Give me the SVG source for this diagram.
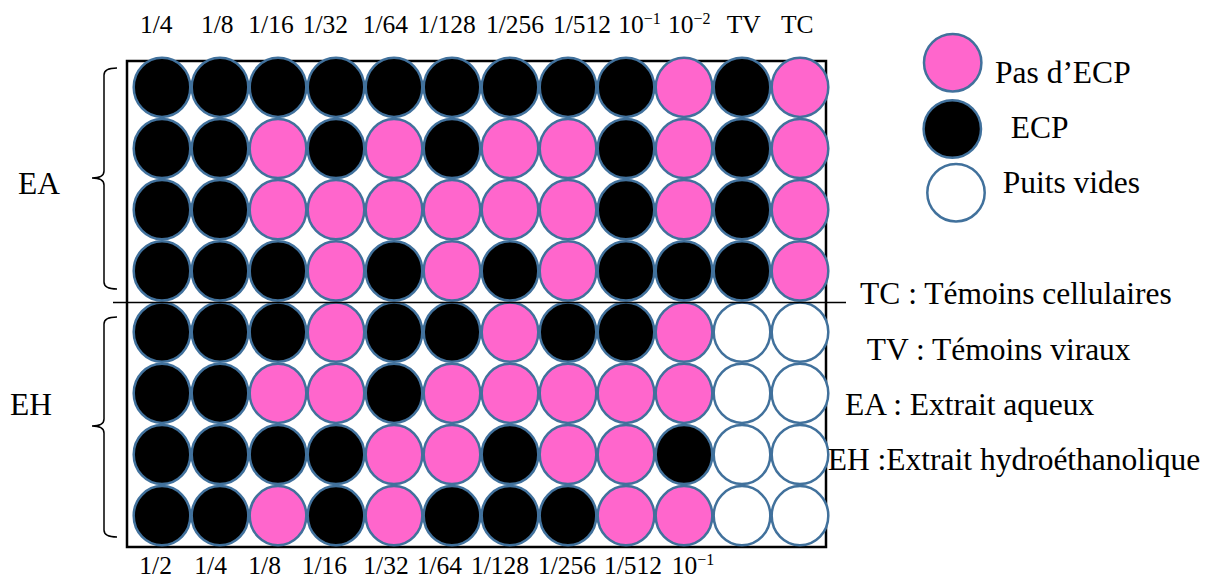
<svg xmlns="http://www.w3.org/2000/svg" width="1205" height="578" viewBox="0 0 1205 578" font-family="'Liberation Serif','Times New Roman',serif">
<style>
text{font-family:"Liberation Serif","Times New Roman",serif;fill:#000}
.col{font-size:25.5px}
.lbl{font-size:31.5px}
.w{stroke:#41719C;stroke-width:2.5}
.b{fill:#000}
.p{fill:#FF66CC}
.e{fill:#fff}
.brace{fill:none;stroke:#000;stroke-width:1.5}
</style>
<rect width="1205" height="578" fill="#fff"/>
<g id="plate">
<rect x="127" y="61" width="699" height="486" fill="#fff" stroke="#000" stroke-width="2.5"/>
</g>
<g id="wells">
<g id="row1">
<ellipse class="w b" cx="162" cy="87.3" rx="28.3" ry="29.6"/><ellipse class="w b" cx="220" cy="87.3" rx="28.3" ry="29.6"/><ellipse class="w b" cx="278" cy="87.3" rx="28.3" ry="29.6"/><ellipse class="w b" cx="336" cy="87.3" rx="28.3" ry="29.6"/><ellipse class="w b" cx="394" cy="87.3" rx="28.3" ry="29.6"/><ellipse class="w b" cx="452" cy="87.3" rx="28.3" ry="29.6"/><ellipse class="w b" cx="510" cy="87.3" rx="28.3" ry="29.6"/><ellipse class="w b" cx="568" cy="87.3" rx="28.3" ry="29.6"/><ellipse class="w b" cx="626" cy="87.3" rx="28.3" ry="29.6"/><ellipse class="w p" cx="684" cy="87.3" rx="28.3" ry="29.6"/><ellipse class="w b" cx="742" cy="87.3" rx="28.3" ry="29.6"/><ellipse class="w p" cx="800" cy="87.3" rx="28.3" ry="29.6"/>
</g>
<g id="row2">
<ellipse class="w b" cx="162" cy="148.5" rx="28.3" ry="29.6"/><ellipse class="w b" cx="220" cy="148.5" rx="28.3" ry="29.6"/><ellipse class="w p" cx="278" cy="148.5" rx="28.3" ry="29.6"/><ellipse class="w b" cx="336" cy="148.5" rx="28.3" ry="29.6"/><ellipse class="w p" cx="394" cy="148.5" rx="28.3" ry="29.6"/><ellipse class="w b" cx="452" cy="148.5" rx="28.3" ry="29.6"/><ellipse class="w p" cx="510" cy="148.5" rx="28.3" ry="29.6"/><ellipse class="w p" cx="568" cy="148.5" rx="28.3" ry="29.6"/><ellipse class="w b" cx="626" cy="148.5" rx="28.3" ry="29.6"/><ellipse class="w p" cx="684" cy="148.5" rx="28.3" ry="29.6"/><ellipse class="w b" cx="742" cy="148.5" rx="28.3" ry="29.6"/><ellipse class="w p" cx="800" cy="148.5" rx="28.3" ry="29.6"/>
</g>
<g id="row3">
<ellipse class="w b" cx="162" cy="209.7" rx="28.3" ry="29.6"/><ellipse class="w b" cx="220" cy="209.7" rx="28.3" ry="29.6"/><ellipse class="w p" cx="278" cy="209.7" rx="28.3" ry="29.6"/><ellipse class="w p" cx="336" cy="209.7" rx="28.3" ry="29.6"/><ellipse class="w p" cx="394" cy="209.7" rx="28.3" ry="29.6"/><ellipse class="w p" cx="452" cy="209.7" rx="28.3" ry="29.6"/><ellipse class="w p" cx="510" cy="209.7" rx="28.3" ry="29.6"/><ellipse class="w p" cx="568" cy="209.7" rx="28.3" ry="29.6"/><ellipse class="w b" cx="626" cy="209.7" rx="28.3" ry="29.6"/><ellipse class="w p" cx="684" cy="209.7" rx="28.3" ry="29.6"/><ellipse class="w b" cx="742" cy="209.7" rx="28.3" ry="29.6"/><ellipse class="w p" cx="800" cy="209.7" rx="28.3" ry="29.6"/>
</g>
<g id="row4">
<ellipse class="w b" cx="162" cy="270.9" rx="28.3" ry="29.6"/><ellipse class="w b" cx="220" cy="270.9" rx="28.3" ry="29.6"/><ellipse class="w b" cx="278" cy="270.9" rx="28.3" ry="29.6"/><ellipse class="w p" cx="336" cy="270.9" rx="28.3" ry="29.6"/><ellipse class="w b" cx="394" cy="270.9" rx="28.3" ry="29.6"/><ellipse class="w p" cx="452" cy="270.9" rx="28.3" ry="29.6"/><ellipse class="w b" cx="510" cy="270.9" rx="28.3" ry="29.6"/><ellipse class="w p" cx="568" cy="270.9" rx="28.3" ry="29.6"/><ellipse class="w b" cx="626" cy="270.9" rx="28.3" ry="29.6"/><ellipse class="w b" cx="684" cy="270.9" rx="28.3" ry="29.6"/><ellipse class="w b" cx="742" cy="270.9" rx="28.3" ry="29.6"/><ellipse class="w p" cx="800" cy="270.9" rx="28.3" ry="29.6"/>
</g>
<g id="row5">
<ellipse class="w b" cx="162" cy="332.1" rx="28.3" ry="29.6"/><ellipse class="w b" cx="220" cy="332.1" rx="28.3" ry="29.6"/><ellipse class="w b" cx="278" cy="332.1" rx="28.3" ry="29.6"/><ellipse class="w p" cx="336" cy="332.1" rx="28.3" ry="29.6"/><ellipse class="w b" cx="394" cy="332.1" rx="28.3" ry="29.6"/><ellipse class="w b" cx="452" cy="332.1" rx="28.3" ry="29.6"/><ellipse class="w p" cx="510" cy="332.1" rx="28.3" ry="29.6"/><ellipse class="w b" cx="568" cy="332.1" rx="28.3" ry="29.6"/><ellipse class="w b" cx="626" cy="332.1" rx="28.3" ry="29.6"/><ellipse class="w p" cx="684" cy="332.1" rx="28.3" ry="29.6"/><ellipse class="w e" cx="742" cy="332.1" rx="28.3" ry="29.6"/><ellipse class="w e" cx="800" cy="332.1" rx="28.3" ry="29.6"/>
</g>
<g id="row6">
<ellipse class="w b" cx="162" cy="393.3" rx="28.3" ry="29.6"/><ellipse class="w b" cx="220" cy="393.3" rx="28.3" ry="29.6"/><ellipse class="w p" cx="278" cy="393.3" rx="28.3" ry="29.6"/><ellipse class="w p" cx="336" cy="393.3" rx="28.3" ry="29.6"/><ellipse class="w b" cx="394" cy="393.3" rx="28.3" ry="29.6"/><ellipse class="w p" cx="452" cy="393.3" rx="28.3" ry="29.6"/><ellipse class="w p" cx="510" cy="393.3" rx="28.3" ry="29.6"/><ellipse class="w p" cx="568" cy="393.3" rx="28.3" ry="29.6"/><ellipse class="w p" cx="626" cy="393.3" rx="28.3" ry="29.6"/><ellipse class="w p" cx="684" cy="393.3" rx="28.3" ry="29.6"/><ellipse class="w e" cx="742" cy="393.3" rx="28.3" ry="29.6"/><ellipse class="w e" cx="800" cy="393.3" rx="28.3" ry="29.6"/>
</g>
<g id="row7">
<ellipse class="w b" cx="162" cy="454.5" rx="28.3" ry="29.6"/><ellipse class="w b" cx="220" cy="454.5" rx="28.3" ry="29.6"/><ellipse class="w b" cx="278" cy="454.5" rx="28.3" ry="29.6"/><ellipse class="w b" cx="336" cy="454.5" rx="28.3" ry="29.6"/><ellipse class="w p" cx="394" cy="454.5" rx="28.3" ry="29.6"/><ellipse class="w p" cx="452" cy="454.5" rx="28.3" ry="29.6"/><ellipse class="w b" cx="510" cy="454.5" rx="28.3" ry="29.6"/><ellipse class="w p" cx="568" cy="454.5" rx="28.3" ry="29.6"/><ellipse class="w p" cx="626" cy="454.5" rx="28.3" ry="29.6"/><ellipse class="w b" cx="684" cy="454.5" rx="28.3" ry="29.6"/><ellipse class="w e" cx="742" cy="454.5" rx="28.3" ry="29.6"/><ellipse class="w e" cx="800" cy="454.5" rx="28.3" ry="29.6"/>
</g>
<g id="row8">
<ellipse class="w b" cx="162" cy="515.7" rx="28.3" ry="29.6"/><ellipse class="w b" cx="220" cy="515.7" rx="28.3" ry="29.6"/><ellipse class="w p" cx="278" cy="515.7" rx="28.3" ry="29.6"/><ellipse class="w b" cx="336" cy="515.7" rx="28.3" ry="29.6"/><ellipse class="w p" cx="394" cy="515.7" rx="28.3" ry="29.6"/><ellipse class="w b" cx="452" cy="515.7" rx="28.3" ry="29.6"/><ellipse class="w b" cx="510" cy="515.7" rx="28.3" ry="29.6"/><ellipse class="w b" cx="568" cy="515.7" rx="28.3" ry="29.6"/><ellipse class="w p" cx="626" cy="515.7" rx="28.3" ry="29.6"/><ellipse class="w p" cx="684" cy="515.7" rx="28.3" ry="29.6"/><ellipse class="w e" cx="742" cy="515.7" rx="28.3" ry="29.6"/><ellipse class="w e" cx="800" cy="515.7" rx="28.3" ry="29.6"/>
</g>
</g>
<g id="connectors">
<line x1="113" y1="302.5" x2="846" y2="302.5" stroke="#000" stroke-width="1.5"/>
<path class="brace" d="M117,68 Q104,68 104,75 L104,171 Q104,178 92,178 Q104,178 104,185 L104,282 Q104,289 117,289"/>
<path class="brace" d="M117,317 Q104,317 104,324 L104,419 Q104,426 92,426 Q104,426 104,433 L104,530 Q104,537 117,537"/>
</g>
<g id="top-labels">
<text class="col" x="140" y="33">1/4</text>
<text class="col" x="201" y="33">1/8</text>
<text class="col" x="248.3" y="33">1/16</text>
<text class="col" x="302.7" y="33">1/32</text>
<text class="col" x="362.7" y="33">1/64</text>
<text class="col" x="417.7" y="33">1/128</text>
<text class="col" x="486" y="33">1/256</text>
<text class="col" x="553" y="33">1/512</text>
<text class="col" x="618.3" y="33">10<tspan font-size="16" dy="-9">−1</tspan></text>
<text class="col" x="668" y="33">10<tspan font-size="16" dy="-9">−2</tspan></text>
<text class="col" x="726.7" y="33">TV</text>
<text class="col" x="781" y="33">TC</text>
</g>
<g id="bottom-labels">
<text class="col" x="139.3" y="574">1/2</text>
<text class="col" x="194.3" y="574">1/4</text>
<text class="col" x="248.3" y="574">1/8</text>
<text class="col" x="301.7" y="574">1/16</text>
<text class="col" x="363.3" y="574">1/32</text>
<text class="col" x="416.7" y="574">1/64</text>
<text class="col" x="471" y="574">1/128</text>
<text class="col" x="538" y="574">1/256</text>
<text class="col" x="604" y="574">1/512</text>
<text class="col" x="671.7" y="574">10<tspan font-size="16" dy="-9">−1</tspan></text>
</g>
<g id="group-EA"><text class="lbl" x="18" y="194">EA</text></g>
<g id="group-EH"><text class="lbl" x="10" y="415">EH</text></g>
<g id="legend">
<g id="legend-no-ecp"><circle class="w p" cx="952.7" cy="62.7" r="28.7"/><text class="lbl" x="995" y="83.3">Pas d’ECP</text></g>
<g id="legend-ecp"><circle class="w b" cx="952.3" cy="129" r="28.7"/><text class="lbl" x="1010.7" y="138.3">ECP</text></g>
<g id="legend-empty"><circle class="w e" cx="956" cy="192.7" r="28.7"/><text class="lbl" x="1002.7" y="193.3">Puits vides</text></g>
</g>
<g id="abbreviations">
<text class="lbl" x="860" y="304.3">TC : Témoins cellulaires</text>
<text class="lbl" x="866.7" y="360">TV : Témoins viraux</text>
<text class="lbl" x="845" y="415">EA : Extrait aqueux</text>
<text class="lbl" x="827.7" y="470">EH :Extrait hydroéthanolique</text>
</g>
</svg>
